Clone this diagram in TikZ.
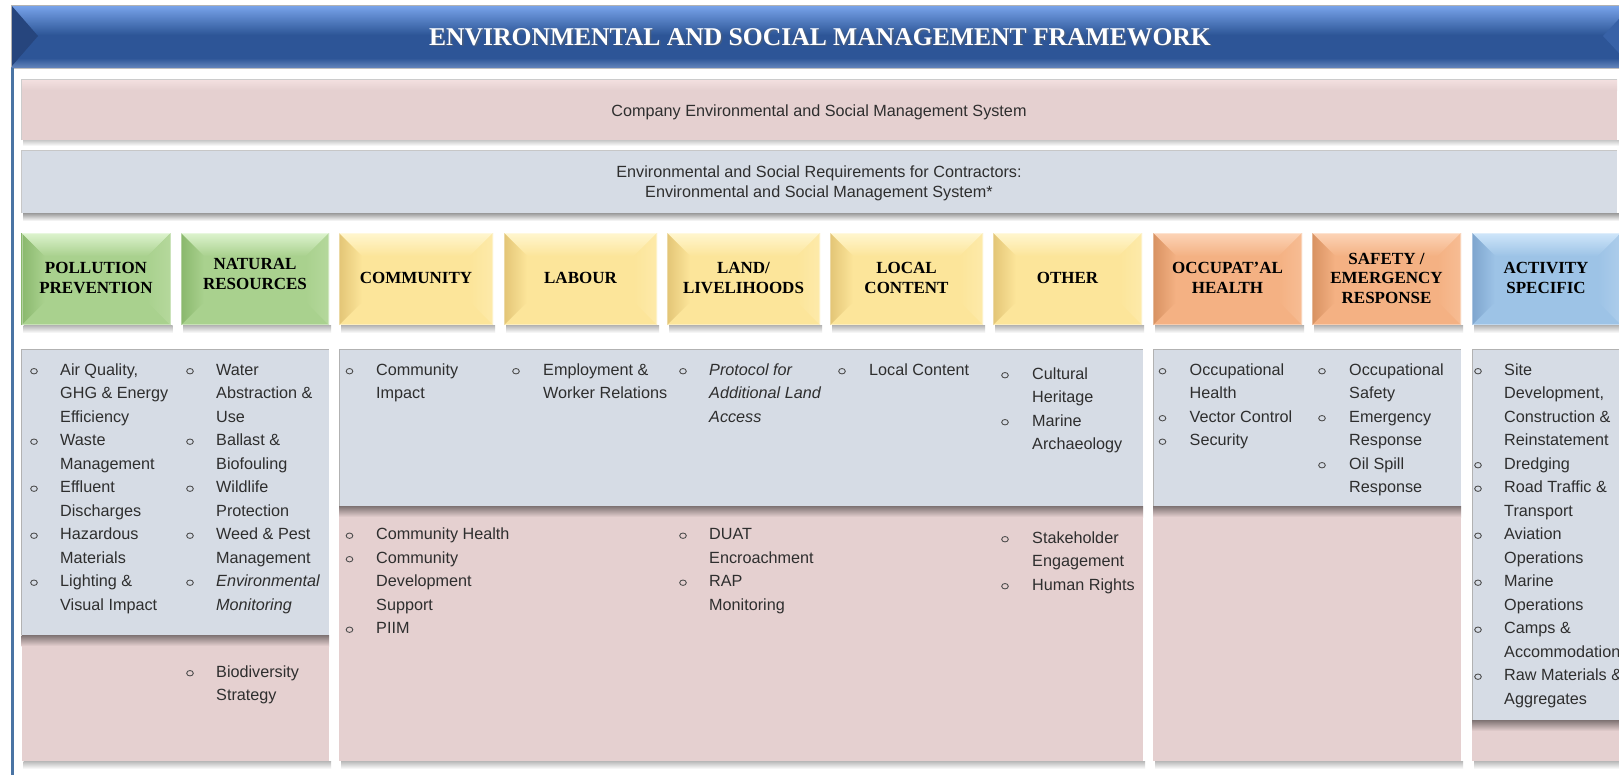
\documentclass[tikz,border=0pt]{standalone}
\usepackage{fontspec}
\setmainfont{Liberation Serif}
\newfontfamily\sansbody{Liberation Sans}
\usetikzlibrary{calc,shapes.geometric}

% palette
\definecolor{pinkbg}{HTML}{E5D0D0}
\definecolor{pinktop}{HTML}{F4E1E1}
\definecolor{graybg}{HTML}{D6DCE5}
\definecolor{txtcol}{HTML}{2E2E2E}
\definecolor{framecol}{HTML}{4A74A4}
\definecolor{titletop}{HTML}{7AA5EC}
\definecolor{titlemid}{HTML}{2F5899}
\definecolor{titlebase}{HTML}{2D5597}
\definecolor{titleleft}{HTML}{26457D}
\definecolor{titleright}{HTML}{3862A7}
\definecolor{gbase}{HTML}{A9D18E}\definecolor{glight}{HTML}{DDF3CE}
\definecolor{gdark}{HTML}{8AB86D}\definecolor{gside}{HTML}{B5D89C}
\definecolor{ybase}{HTML}{FCE59A}\definecolor{ylight}{HTML}{FFF6CF}
\definecolor{ydark}{HTML}{E3C576}\definecolor{yside}{HTML}{FDEAAA}
\definecolor{obase}{HTML}{F4B183}\definecolor{olight}{HTML}{FCD4B7}
\definecolor{odark}{HTML}{D89262}\definecolor{oside}{HTML}{F7BD94}
\definecolor{bbase}{HTML}{9DC3E6}\definecolor{blight}{HTML}{CFE6FA}
\definecolor{bdark}{HTML}{7EA5CE}\definecolor{bside}{HTML}{ADCDEB}

\tikzset{
  bodytext/.style={font=\sansbody\fontsize{16.2}{23.5}\selectfont, text=txtcol,
    inner sep=0pt, anchor=base west},
  bulletmark/.style={ellipse, draw=txtcol!85, line width=.9pt, inner sep=0pt,
    minimum width=6.6pt, minimum height=5.4pt},
  bartext/.style={font=\sansbody\fontsize{16.2}{20}\selectfont, text=txtcol,
    inner sep=0pt, align=center},
  hdrtext/.style={font=\fontsize{17}{20}\selectfont\bfseries, text=black,
    inner sep=0pt, align=center},
  titletext/.style={font=\fontsize{25.6}{30}\selectfont\bfseries, text=white,
    inner sep=0pt, anchor=base},
}

% lines of one list entry, first baseline is the node's base
\newcommand\ml[1]{\begin{tabular}[t]{@{}l@{}}#1\end{tabular}}
% bullet entry: name, bullet x, text x, first baseline y, text
\newcommand\bitem[5]{%
  \node[bulletmark] (#1b) at (#2,#4-3.8) {};
  \node[bodytext] (#1) at (#3,#4) {\ml{#5}};}
% bevelled header tile: x0, x1, base, light, dark, side
\newcommand\hdrtile[6]{%
  \shade[top color=black!30, bottom color=white] (#1+2,325) rectangle (#2+2,333);
  \fill[#3] (#1,233) rectangle (#2,325);
  \shade[top color=#4, bottom color=#3]
    (#1,233) -- (#2,233) -- (#2-23,256) -- (#1+23,256) -- cycle;
  \shade[left color=#5, right color=#3]
    (#1,233) -- (#1+23,256) -- (#1+23,302) -- (#1,325) -- cycle;
  \shade[left color=#3, right color=#6]
    (#2,233) -- (#2-23,256) -- (#2-23,302) -- (#2,325) -- cycle;
  \draw[white, opacity=.35, line width=.8] (#1+.5,233.5) rectangle (#2-.5,324.5);}
% content column: x0, x1, bottom of the grey part
\newcommand\contentcol[3]{%
  \shade[top color=black!28, bottom color=white] (#1+2,761) rectangle (#2+2,769);
  \fill[pinkbg] (#1,349) rectangle (#2,761);
  \shade[top color=black!45!pinkbg, bottom color=pinkbg] (#1,#3) rectangle (#2,#3+11);
  \fill[graybg] (#1,349) rectangle (#2,#3);
  \draw[black!30, line width=.7] (#1,#3) -- (#1,349) -- (#2,349);}

\begin{document}
\begin{tikzpicture}[x=1pt,y=-1pt]
\useasboundingbox (0,0) rectangle (1619,774);
\clip (0,0) rectangle (1619,774);
\fill[white] (0,0) rectangle (1619,774);

% frame under the title
\draw[black!25, line width=1] (12,68) -- (1619,68);
\draw[framecol, line width=3] (12.5,67) -- (12.5,776);

% title band
\fill[titlebase] (11,5) rectangle (1632,67);
\shade[top color=titletop, bottom color=titlemid] (11,5) rectangle (1632,34);
\shade[top color=titlebase, bottom color=titleright!80!white] (11,58) rectangle (1632,67);
\fill[titleleft] (11,5) -- (38,36) -- (11,67) -- cycle;
\fill[titleright] (1632,5) -- (1603,36) -- (1632,67) -- cycle;
\draw[black!30, line width=.8] (11,5) -- (1632,5) (11,5) -- (11,67);
\node[titletext, text=black!60, opacity=.5] (titleshadow) at (821.5,46.5)
  {ENVIRONMENTAL AND SOCIAL MANAGEMENT FRAMEWORK};
\node[titletext] (title) at (820,45)
  {ENVIRONMENTAL AND SOCIAL MANAGEMENT FRAMEWORK};

% company and contractor bars
\shade[top color=black!22, bottom color=white] (23,140) rectangle (1619,146);
\fill[pinkbg] (21,79) rectangle (1617,140);
\shade[top color=pinktop, bottom color=pinkbg] (21,79) rectangle (1617,90);
\draw[black!20, line width=.6] (21,140) -- (21,79) -- (1617,79);
\node[bartext] (company) at (819,112)
  {Company Environmental and Social Management System};

\shade[top color=black!40, bottom color=white] (23,213) rectangle (1619,221);
\fill[graybg] (21,150) rectangle (1617,213);
\draw[black!22, line width=.6] (21,213) -- (21,150) -- (1617,150);
\node[bartext] (contractor) at (819,183.5)
  {Environmental and Social Requirements for Contractors:\\
   Environmental and Social Management System*};

% category tiles
\hdrtile{21.5}{170.5}{gbase}{glight}{gdark}{gside}
\hdrtile{181}{329}{gbase}{glight}{gdark}{gside}
\hdrtile{339}{493}{ybase}{ylight}{ydark}{yside}
\hdrtile{504}{657}{ybase}{ylight}{ydark}{yside}
\hdrtile{667}{820}{ybase}{ylight}{ydark}{yside}
\hdrtile{830}{983}{ybase}{ylight}{ydark}{yside}
\hdrtile{993}{1142}{ybase}{ylight}{ydark}{yside}
\hdrtile{1153}{1302}{obase}{olight}{odark}{oside}
\hdrtile{1312}{1461}{obase}{olight}{odark}{oside}
\hdrtile{1472}{1621}{bbase}{blight}{bdark}{bside}

\node[hdrtext] (pollution) at (96,278) {POLLUTION\\PREVENTION};
\node[hdrtext] (natural)   at (255,274) {NATURAL\\RESOURCES};
\node[hdrtext] (community) at (416,278) {COMMUNITY};
\node[hdrtext] (labour)    at (580.5,278) {LABOUR};
\node[hdrtext] (land)      at (743.5,278) {LAND/\\LIVELIHOODS};
\node[hdrtext] (local)     at (906.5,278) {LOCAL\\CONTENT};
\node[hdrtext] (other)     at (1067.5,278) {OTHER};
\node[hdrtext] (occup)     at (1227.5,278) {OCCUPAT’AL\\HEALTH};
\node[hdrtext, font=\fontsize{17}{19.5}\selectfont\bfseries] (safety) at (1386.5,278)
  {SAFETY /\\EMERGENCY\\RESPONSE};
\node[hdrtext] (activity)  at (1546,278) {ACTIVITY\\SPECIFIC};

% content columns
\contentcol{21.5}{329}{635}
\contentcol{339}{1143}{506}
\contentcol{1153}{1461}{506}
\contentcol{1472}{1625}{720}

% pollution prevention
\bitem{aq}{34}{60}{375}{Air Quality,\\GHG \& Energy\\Efficiency}
\bitem{wm}{34}{60}{445.5}{Waste\\Management}
\bitem{ed}{34}{60}{492.5}{Effluent\\Discharges}
\bitem{hm}{34}{60}{539.5}{Hazardous\\Materials}
\bitem{lv}{34}{60}{586.5}{Lighting \&\\Visual Impact}
% natural resources
\bitem{wa}{190}{216}{375}{Water\\Abstraction \&\\Use}
\bitem{bb}{190}{216}{445.5}{Ballast \&\\Biofouling}
\bitem{wl}{190}{216}{492.5}{Wildlife\\Protection}
\bitem{wp}{190}{216}{539.5}{Weed \& Pest\\Management}
\bitem{em}{190}{216}{586.5}{\itshape Environmental\\\itshape Monitoring}
\bitem{bs}{190}{216}{677}{Biodiversity\\Strategy}
% community
\bitem{ci}{349.5}{376}{375}{Community\\Impact}
\bitem{ch}{349.5}{376}{539.5}{Community Health}
\bitem{cd}{349.5}{376}{563}{Community\\Development\\Support}
\bitem{pi}{349.5}{376}{633.5}{PIIM}
% labour
\bitem{ew}{516}{543}{375}{Employment \&\\Worker Relations}
% land / livelihoods
\bitem{pa}{683}{709}{375}{\itshape Protocol for\\\itshape Additional Land\\\itshape Access}
\bitem{du}{683}{709}{539.5}{DUAT\\Encroachment}
\bitem{rm}{683}{709}{586.5}{RAP\\Monitoring}
% local content
\bitem{lc}{842}{869}{375}{Local Content}
% other
\bitem{cu}{1005}{1032}{379}{Cultural\\Heritage}
\bitem{ma}{1005}{1032}{426}{Marine\\Archaeology}
\bitem{se}{1005}{1032}{543}{Stakeholder\\Engagement}
\bitem{hr}{1005}{1032}{590}{Human Rights}
% occupational health
\bitem{oh}{1162.5}{1189.5}{375}{Occupational\\Health}
\bitem{vc}{1162.5}{1189.5}{422}{Vector Control}
\bitem{sc}{1162.5}{1189.5}{445.5}{Security}
% safety / emergency response
\bitem{os}{1322}{1349}{375}{Occupational\\Safety}
\bitem{er}{1322}{1349}{422}{Emergency\\Response}
\bitem{ol}{1322}{1349}{469}{Oil Spill\\Response}
% activity specific
\bitem{sd}{1478}{1504}{375}{Site\\Development,\\Construction \&\\Reinstatement}
\bitem{dr}{1478}{1504}{469}{Dredging}
\bitem{rt}{1478}{1504}{492.5}{Road Traffic \&\\Transport}
\bitem{av}{1478}{1504}{539.5}{Aviation\\Operations}
\bitem{mo}{1478}{1504}{586.5}{Marine\\Operations}
\bitem{ca}{1478}{1504}{633.5}{Camps \&\\Accommodation}
\bitem{rw}{1478}{1504}{680.5}{Raw Materials \&\\Aggregates}
\end{tikzpicture}
\end{document}
